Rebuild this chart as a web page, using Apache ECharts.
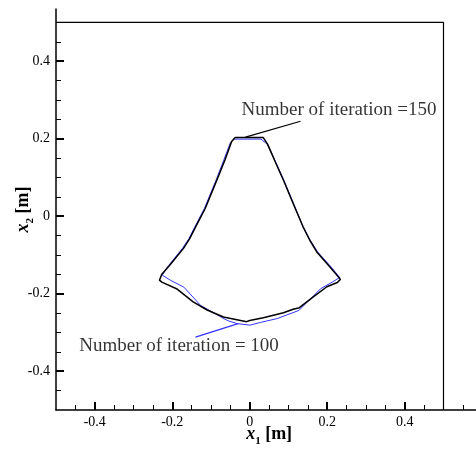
<!DOCTYPE html>
<html>
<head>
<meta charset="utf-8">
<script src="https://cdn.jsdelivr.net/npm/echarts@6/dist/echarts.min.js"></script>
<style>
  html, body { margin: 0; padding: 0; background: #fff; }
  #chart { width: 476px; height: 450px; }
</style>
</head>
<body>
<div id="chart"></div>
<script>
// Contour after 150 iterations (black)
const iter150 = [
  [-0.038, 0.203], [0.035, 0.203], [0.046, 0.186], [0.053, 0.170], [0.066, 0.140],
  [0.087, 0.093], [0.112, 0.033], [0.137, -0.026], [0.155, -0.062], [0.173, -0.092],
  [0.207, -0.131], [0.229, -0.157], [0.234, -0.163], [0.226, -0.171], [0.199, -0.182],
  [0.164, -0.208], [0.128, -0.236], [0.112, -0.240], [0.087, -0.249], [0.035, -0.262],
  [0.000, -0.269], [-0.008, -0.272], [-0.068, -0.260], [-0.110, -0.242], [-0.146, -0.221],
  [-0.189, -0.187], [-0.227, -0.170], [-0.233, -0.165], [-0.227, -0.150], [-0.206, -0.126],
  [-0.171, -0.083], [-0.155, -0.058], [-0.141, -0.030], [-0.115, 0.020], [-0.085, 0.093],
  [-0.064, 0.145], [-0.047, 0.192], [-0.038, 0.203]
];

// Contour after 100 iterations (blue)
const iter100 = [
  [-0.041, 0.199], [0.029, 0.199], [0.045, 0.186], [0.052, 0.172], [0.066, 0.142],
  [0.088, 0.093], [0.113, 0.033], [0.137, -0.026], [0.156, -0.062], [0.175, -0.092],
  [0.210, -0.131], [0.232, -0.158], [0.213, -0.170], [0.183, -0.187], [0.127, -0.243],
  [0.071, -0.264], [0.028, -0.274], [0.000, -0.281], [-0.033, -0.277], [-0.058, -0.269],
  [-0.127, -0.230], [-0.170, -0.183], [-0.205, -0.165], [-0.226, -0.152], [-0.210, -0.128],
  [-0.173, -0.082], [-0.157, -0.058], [-0.143, -0.030], [-0.117, 0.020], [-0.087, 0.093],
  [-0.067, 0.145], [-0.050, 0.190], [-0.041, 0.199]
];

// Domain box (upper and right edges)
const domainBox = [[-0.5, 0.5], [0.5, 0.5], [0.5, -0.5]];

// Leader lines and their captions
const leader150 = [[-0.011, 0.204], [0.131, 0.245]];
const leader100 = [[-0.140, -0.312], [-0.030, -0.277]];
const caption150 = { text: 'Number of iteration =150', at: [-0.021, 0.2735] };
const caption100 = { text: 'Number of iteration = 100', at: [-0.440, -0.3337] };

// Axis ticks
const majorTicks = [-0.4, -0.2, 0, 0.2, 0.4];
const minorTicksX = [-0.45, -0.4, -0.35, -0.3, -0.25, -0.2, -0.15, -0.1, -0.05, 0,
  0.05, 0.1, 0.15, 0.2, 0.25, 0.3, 0.35, 0.4, 0.45, 0.5, 0.55];
const minorTicksY = [-0.45, -0.4, -0.35, -0.3, -0.25, -0.2, -0.15, -0.1, -0.05, 0,
  0.05, 0.1, 0.15, 0.2, 0.25, 0.3, 0.35, 0.4, 0.45];

const X_MIN = -0.5, X_MAX = 0.6;
const Y_MIN = -0.5, Y_MAX = 0.535;

const serif = '"Liberation Serif", "Times New Roman", serif';

const nameRich = {
  x: { fontFamily: serif, fontSize: 18, fontWeight: 'bold', fontStyle: 'italic', color: '#000' },
  s: { fontFamily: serif, fontSize: 11, fontWeight: 'bold', color: '#000', verticalAlign: 'bottom', padding: [0, 0, -4, 0] },
  m: { fontFamily: serif, fontSize: 18, fontWeight: 'bold', color: '#000' }
};

function minorAxis(kind, ticks, min, max, name) {
  return {
    type: 'value', min: min, max: max,
    position: kind === 'x' ? 'bottom' : 'left',
    name: name, nameLocation: 'middle', nameGap: kind === 'x' ? 15 : 24,
    nameTextStyle: { rich: nameRich },
    axisLine: { show: true, onZero: false, lineStyle: { color: '#000', width: 1.5 } },
    axisTick: { show: true, inside: true, length: 5, customValues: ticks, lineStyle: { color: '#000', width: 1 } },
    axisLabel: { show: false },
    splitLine: { show: false }
  };
}

function majorAxis(kind, min, max) {
  return {
    type: 'value', min: min, max: max,
    position: kind === 'x' ? 'bottom' : 'left',
    axisLine: { show: false, onZero: false },
    axisTick: { show: true, inside: true, length: 8, customValues: majorTicks, lineStyle: { color: '#000', width: 2 } },
    axisLabel: {
      show: true, customValues: majorTicks, margin: kind === 'x' ? 5 : 6,
      fontFamily: serif, fontSize: 14, color: '#000',
      formatter: v => String(Math.round(v * 10) / 10)
    },
    splitLine: { show: false }
  };
}

function caption(c) {
  return {
    type: 'scatter', xAxisIndex: 0, yAxisIndex: 0, symbolSize: 0, silent: true,
    data: [c.at],
    label: {
      show: true, position: 'right', distance: 0, align: 'left', verticalAlign: 'middle',
      formatter: c.text, fontFamily: serif, fontSize: 19, color: '#000'
    },
    z: 5
  };
}

function path(data, color, width, z) {
  return {
    type: 'line', xAxisIndex: 0, yAxisIndex: 0, data: data,
    showSymbol: false, symbol: 'none', silent: true, animation: false,
    lineStyle: { color: color, width: width }, z: z
  };
}

const chart = echarts.init(document.getElementById('chart'), null, { renderer: 'canvas' });
chart.setOption({
  animation: false,
  backgroundColor: '#fff',
  grid: { left: 56, right: -6.25, top: 8.9, bottom: 40, containLabel: false, outerBoundsMode: 'none' },
  xAxis: [
    minorAxis('x', minorTicksX, X_MIN, X_MAX, '{x|x}{s|1}{m| [m]}'),
    majorAxis('x', X_MIN, X_MAX)
  ],
  yAxis: [
    minorAxis('y', minorTicksY, Y_MIN, Y_MAX, '{x|x}{s|2}{m| [m]}'),
    majorAxis('y', Y_MIN, Y_MAX)
  ],
  series: [
    path(domainBox, '#000', 1.2, 2),
    path(iter100, '#3333ff', 1, 3),
    path(iter150, '#000', 1.5, 4),
    path(leader150, '#000', 1.2, 4),
    path(leader100, '#3333ff', 1.2, 4),
    caption(caption150),
    caption(caption100)
  ]
});
</script>
</body>
</html>
